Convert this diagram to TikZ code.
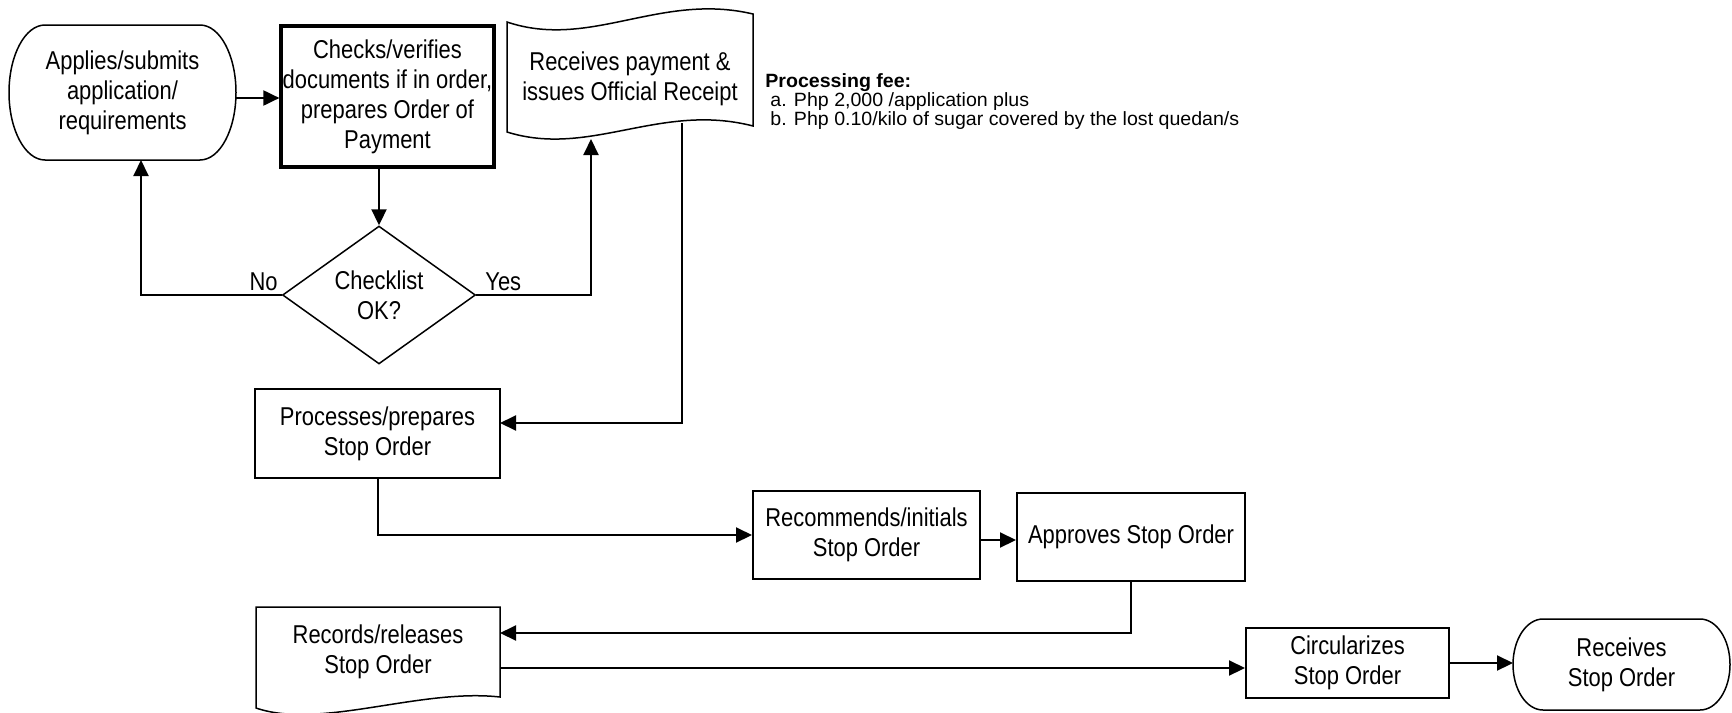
\documentclass[tikz,border=0pt]{standalone}
\usepackage{fontspec}
\setmainfont{Liberation Sans}[FakeStretch=0.85]
\newfontfamily\feefont{Liberation Sans}[FakeStretch=1.02]
\usetikzlibrary{arrows.meta,shapes.geometric}
\begin{document}
\begin{tikzpicture}[x=0.5pt,y=-0.5pt,
  every node/.style={font=\fontsize{12.9}{15}\selectfont, align=center, inner sep=0pt},
  fee/.style={font=\feefont\fontsize{9.6}{12}\selectfont, anchor=base west, align=left},
  stepbox/.style={draw, line width=1pt},
  outline/.style={draw, line width=0.75pt},
  arr/.style={line width=1pt, -{Triangle[length=8pt,width=7.5pt]}},
  line/.style={line width=1pt}]
\useasboundingbox (0,0) rectangle (1732,712);
\fill[white] (0,0) rectangle (1732,712);

% nodes
\node (app) at (122.5,93) {Applies/submits\\application/\\requirements};
\node[stepbox, line width=1.6pt, minimum width=106.5pt, minimum height=70.5pt] (chk) at (387.5,96.5)
  {Checks/verifies\\documents if in order,\\prepares Order of\\Payment};
\node (rcv) at (630,79) {Receives payment \&\\issues Official Receipt};
\node[fee] (fee1) at (765,87) {\bfseries Processing fee:};
\node[fee] (fee2) at (770,106) {a. Php 2,000 /application plus};
\node[fee] (fee3) at (770,125) {b. Php 0.10/kilo of sugar covered by the lost quedan/s};
\node[diamond, outline, minimum width=96.5pt, minimum height=65pt] (dia) at (379,295) {Checklist\\OK?};
\node[anchor=base east] (no) at (278,290) {No};
\node[anchor=base west] (yes) at (485,290) {Yes};
\node[stepbox, minimum width=122.5pt, minimum height=44.5pt] (proc) at (377.5,433.5) {Processes/prepares\\Stop Order};
\node[stepbox, minimum width=113.5pt, minimum height=44pt] (rec) at (866.5,535) {Recommends/initials\\Stop Order};
\node[stepbox, minimum width=114pt, minimum height=44pt] (apr) at (1131,537) {Approves Stop Order};
\node (recd) at (378,652) {Records/releases\\Stop Order};
\node[stepbox, minimum width=101.5pt, minimum height=35pt] (circ) at (1347.5,663) {Circularizes\\Stop Order};
\node (recv) at (1621.5,665) {Receives\\Stop Order};

% outlines of special shapes
\draw[outline] (45,25) -- (200,25) arc[start angle=90,end angle=-90,x radius=18pt,y radius=33.75pt]
  -- (45,160) arc[start angle=270,end angle=90,x radius=18pt,y radius=33.75pt] -- cycle;
\draw[outline] (507,22) .. controls (590,50) and (660,-8) .. (753,14) -- (753,126)
  .. controls (660,102) and (590,158) .. (507,132) -- cycle;
\draw[outline] (256,607) -- (500,607) -- (500,697) .. controls (420,688) and (320,730) .. (256,708) -- cycle;
\draw[outline] (1543,619) -- (1700,619) arc[start angle=90,end angle=-90,x radius=15pt,y radius=22.75pt]
  -- (1543,710) arc[start angle=270,end angle=90,x radius=15pt,y radius=22.75pt] -- cycle;

% connection points
\coordinate (appout) at (236,98);
\coordinate (appin) at (141,160);
\coordinate (rcvin) at (591,139);
\coordinate (rcvout) at (682,123);
\coordinate (procin) at (500,423);
\coordinate (recdin) at (500,633);
\coordinate (recdout) at (500,668);
\coordinate (recvin) at (1513,664);

% connectors
\draw[arr] (appout) -- (appout -| chk.west);
\draw[arr] (chk.south -| dia.north) -- (dia.north);
\draw[arr] (dia.west) -| (appin);
\draw[arr] (dia.east) -| (rcvin);
\draw[arr] (rcvout) |- (procin);
\draw[arr] (proc.south) |- (rec.west);
\draw[arr] ([yshift=-2.5pt]rec.east) -- ([yshift=-2.5pt]rec.east -| apr.west);
\draw[arr] (apr.south) |- (recdin);
\draw[arr] (recdout) -- (recdout -| circ.west);
\draw[arr] (circ.east) -- (circ.east -| recvin);
\end{tikzpicture}
\end{document}
